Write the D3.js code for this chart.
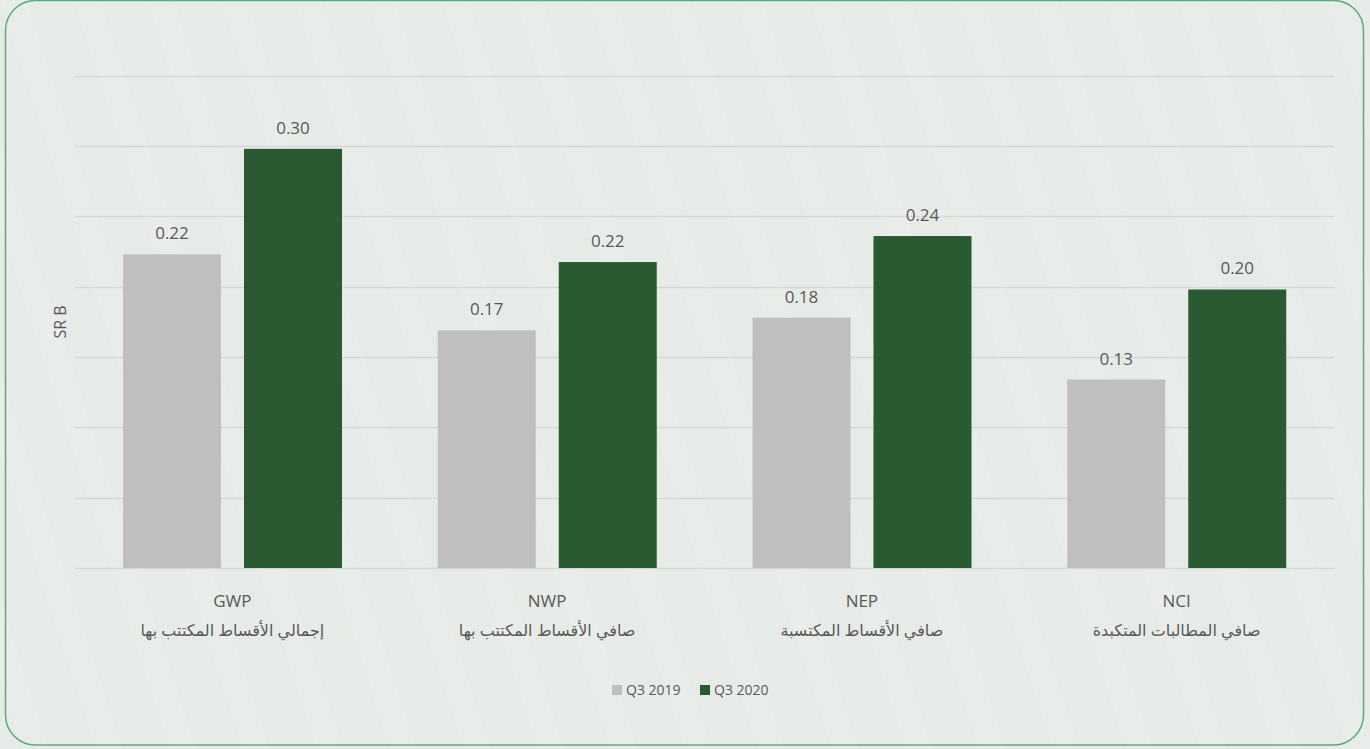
<!DOCTYPE html>
<html>
<head>
    <meta charset="utf-8">
    <title>SR B bars</title>
    <script src="https://cdn.jsdelivr.net/npm/d3@7"></script>
    <style>
        html, body { margin: 0; padding: 0; background: #e8ece9; }
        svg { display: block; font-family: "Open Sans", "Noto Sans", "DejaVu Sans", sans-serif; }
    </style>
</head>
<body>
<div id="chart"></div>
<script>
    // data
    var codes = ["GWP", "NWP", "NEP", "NCI"];
    var arabic = ["إجمالي الأقساط المكتتب بها", "صافي الأقساط المكتتب بها", "صافي الأقساط المكتسبة", "صافي المطالبات المتكبدة"];
    var seriesNames = ["Q3 2019", "Q3 2020"];
    var q3_2019 = [0.223, 0.169, 0.178, 0.134];
    var q3_2020 = [0.298, 0.2175, 0.236, 0.198];
    var gridTicks = [0, 0.05, 0.1, 0.15, 0.2, 0.25, 0.3, 0.35];

    var W = 1370, H = 749;
    var colors = ["#bfbfbf", "#2a5a32"];
    var textColor = "#595959";

    var svg = d3.select("#chart").append("svg").attr("width", W).attr("height", H);

    // faint striped background
    var defs = svg.append("defs");
    var pat = defs.append("pattern").attr("id", "stripes").attr("patternUnits", "userSpaceOnUse")
        .attr("width", 70).attr("height", 70).attr("patternTransform", "rotate(-18)");
    pat.append("rect").attr("width", 70).attr("height", 70).attr("fill", "#e7ebe8");
    pat.append("rect").attr("x", 0).attr("width", 25).attr("height", 70).attr("fill", "#e9ede9");

    svg.append("rect").attr("width", W).attr("height", H).attr("fill", "url(#stripes)");
    svg.append("rect").attr("x", 5.5).attr("y", 0.5).attr("width", 1358).attr("height", 744.5)
        .attr("rx", 30).attr("ry", 30).attr("fill", "none").attr("stroke", "#5ea97b").attr("stroke-width", 1.5);

    var x0 = d3.scaleBand().domain(codes).range([75, 1334]);
    var x1 = d3.scaleBand().domain(seriesNames).range([48, 267]).paddingInner(0.19);
    var y = d3.scaleLinear().domain([0, 0.35]).range([568, 75.7]);

    var rows = codes.map(function (c, i) {
        return {code: c, ar: arabic[i], vals: [q3_2019[i], q3_2020[i]]};
    });

    // gridlines
    svg.append("g").selectAll("line").data(gridTicks).enter().append("line")
        .attr("x1", 75).attr("x2", 1334)
        .attr("y1", function (d) { return Math.round(y(d)) + 0.5; })
        .attr("y2", function (d) { return Math.round(y(d)) + 0.5; })
        .attr("stroke", "#d6d8d6").attr("stroke-width", 1.5);

    var g = svg.append("g").selectAll(".grp").data(rows).enter().append("g")
        .attr("transform", function (d) { return "translate(" + x0(d.code) + ",0)"; });

    g.selectAll("rect").data(function (d) {
        return d.vals.map(function (v, k) { return {s: seriesNames[k], v: v, k: k}; });
    }).enter().append("rect")
        .attr("x", function (d) { return x1(d.s); })
        .attr("width", x1.bandwidth())
        .attr("y", function (d) { return y(d.v); })
        .attr("height", function (d) { return y(0) - y(d.v); })
        .attr("fill", function (d) { return colors[d.k]; });

    g.selectAll(".val").data(function (d) {
        return d.vals.map(function (v, k) { return {s: seriesNames[k], v: v}; });
    }).enter().append("text")
        .attr("x", function (d) { return x1(d.s) + x1.bandwidth() / 2; })
        .attr("y", function (d) { return y(d.v) - 15; })
        .attr("text-anchor", "middle").attr("font-size", 17).attr("fill", textColor)
        .text(function (d) { return d3.format(".2f")(d.v); });

    g.append("text").attr("x", x0.bandwidth() / 2).attr("y", 607)
        .attr("text-anchor", "middle").attr("font-size", 17).attr("fill", textColor)
        .text(function (d) { return d.code; });
    g.append("text").attr("x", x0.bandwidth() / 2).attr("y", 636)
        .attr("text-anchor", "middle").attr("font-size", 16).attr("fill", textColor)
        .attr("direction", "rtl").style("unicode-bidi", "plaintext")
        .text(function (d) { return d.ar; });

    // y axis title
    svg.append("text").attr("transform", "translate(66,322) rotate(-90)")
        .attr("text-anchor", "middle").attr("font-size", 16).attr("fill", textColor).text("SR B");

    // legend
    var legendX = [612, 700];
    var lg = svg.append("g").selectAll("g").data(seriesNames).enter().append("g")
        .attr("transform", function (d, i) { return "translate(" + legendX[i] + ",685)"; });
    lg.append("rect").attr("width", 10).attr("height", 10).attr("fill", function (d, i) { return colors[i]; });
    lg.append("text").attr("x", 14).attr("y", 10).attr("font-size", 14).attr("fill", textColor)
        .text(function (d) { return d; });
</script>
</body>
</html>
